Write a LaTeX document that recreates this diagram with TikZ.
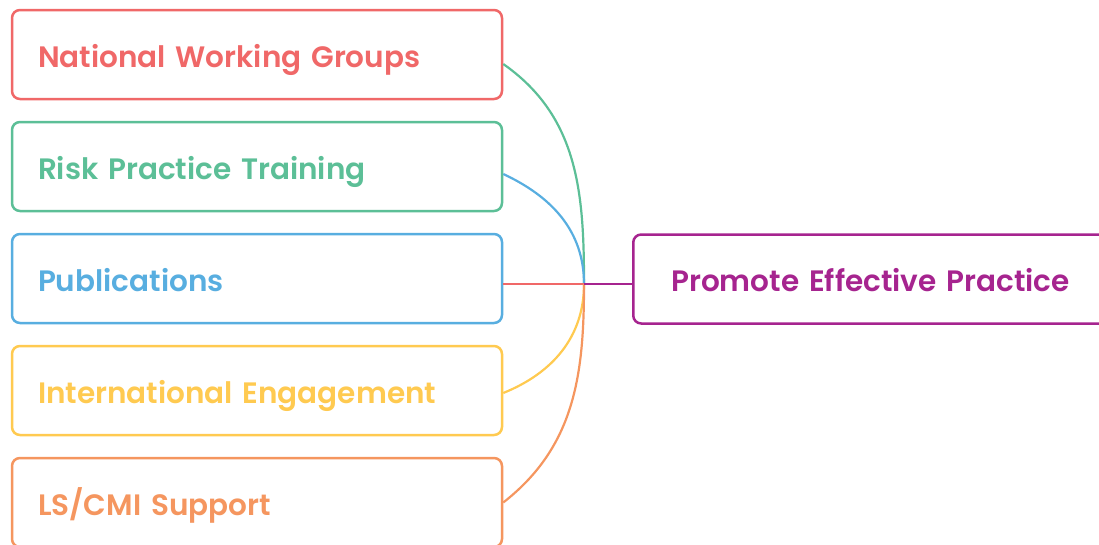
\documentclass[tikz,border=0pt]{standalone}
\usepackage{fontspec}
\setmainfont{Poppins}[BoldFont={Poppins SemiBold}]
\definecolor{nwgred}{HTML}{F06868}
\definecolor{rptgreen}{HTML}{5CBF97}
\definecolor{pubblue}{HTML}{58AEE0}
\definecolor{ieyellow}{HTML}{FFCA50}
\definecolor{lsorange}{HTML}{F5965F}
\definecolor{peppurple}{HTML}{A6248F}

\begin{document}
\begin{tikzpicture}[x=1pt,y=-1pt,
        topic/.style={draw, line width=2.5pt, rounded corners=8pt, fill=white,
            minimum height=89pt, text width=438pt, inner xsep=26pt, align=left,
            text height=33pt, text depth=8pt,
            font=\fontsize{29.5}{34}\selectfont\bfseries},
        branch/.style={line width=2.2pt}]
        \useasboundingbox (0,0) rectangle (1099,544);
        % Left column:
        % One box every 112pt, text set at the left of each box
        \foreach \name/\col/\txt [count=\i from 0] in {%
            nwg/nwgred/National Working Groups,
            rpt/rptgreen/Risk Practice Training,
            pub/pubblue/Publications,
            ie/ieyellow/International Engagement,
            ls/lsorange/{LS/CMI Support}}{%
            \node [topic, draw=\col, text=\col] (\name) at (257,54.5+112*\i) {\txt};
        }
        % Goal on the right:
        \node [topic, draw=peppurple, text=peppurple, anchor=west, inner xsep=38pt, text width=440pt] (pep) at (632,279) {Promote Effective Practice};
        % Branches:
        % All meet in one point before the goal
        \coordinate (hub) at (584,284);
        \draw [branch, rptgreen]  ([yshift=-9.5pt]nwg.east) to [out=-35, in=90]  (hub);
        \draw [branch, pubblue]   ([yshift=-7.5pt]rpt.east) to [out=-25, in=90]  (hub);
        \draw [branch, nwgred]    ([yshift=-5.5pt]pub.east) -- (hub);
        \draw [branch, ieyellow]  ([yshift=-2.5pt]ie.east) to [out=22, in=-90] (hub);
        \draw [branch, lsorange]  (ls.east) to [out=38, in=-90] (hub);
        \draw [branch, peppurple] (hub) -- (pep.west |- hub);
\end{tikzpicture}
\end{document}
